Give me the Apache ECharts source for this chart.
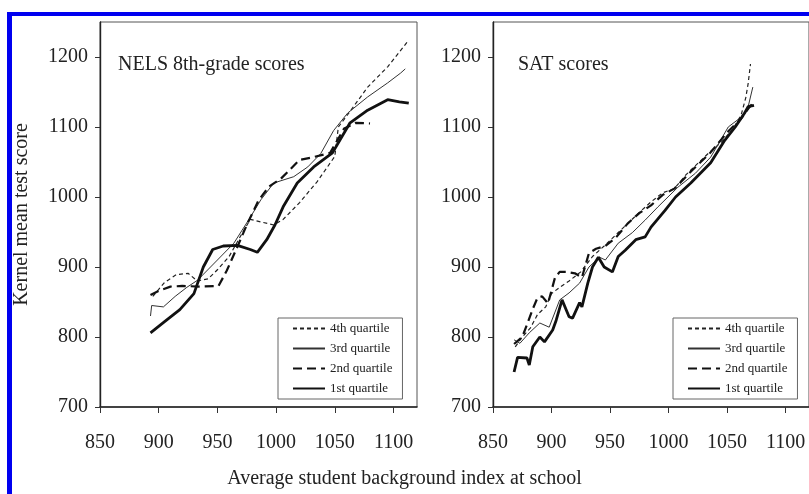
<!DOCTYPE html>
<html><head><meta charset="utf-8">
<script src="https://cdn.jsdelivr.net/npm/echarts@6/dist/echarts.min.js"></script>
<style>html,body{margin:0;padding:0;background:#fff}#c{width:809px;height:494px}</style>
</head><body><div id="c"></div>
<script>
const quartiles = ['4th quartile', '3rd quartile', '2nd quartile', '1st quartile'];
const yTicks = [700, 800, 900, 1000, 1100, 1200];
const xTicks = [850, 900, 950, 1000, 1050, 1100];
const panelTitles = ['NELS 8th-grade scores', 'SAT scores'];
const yAxisTitle = 'Kernel mean test score';
const xAxisTitle = 'Average student background index at school';

// NELS panel
const nelsQ4 = [[895,858],[905,878],[915,889],[925,891],[933,880],[942,883],[950,896],[960,915],[970,945],[978,968],[988,964],[998,960],[1006,968],[1020,992],[1035,1022],[1050,1058],[1053,1100],[1062,1120],[1078,1157],[1095,1186],[1112,1222]];
const nelsQ3 = [[893,830],[894,845],[904,843],[914,858],[924,871],[933,881],[950,910],[964,934],[978,971],[987,996],[998,1020],[1015,1029],[1027,1043],[1038,1062],[1049,1095],[1061,1120],[1078,1143],[1095,1163],[1106,1177],[1110,1183]];
const nelsQ2 = [[893,860],[900,866],[910,872],[920,873],[935,872],[951,873],[958,895],[966,925],[975,960],[985,995],[994,1015],[1004,1026],[1020,1053],[1032,1057],[1046,1063],[1058,1098],[1068,1106],[1080,1105]];
const nelsQ1 = [[893,806],[905,822],[918,839],[930,862],[938,900],[946,925],[955,930],[967,931],[978,925],[984,921],[992,939],[999,960],[1006,986],[1018,1020],[1032,1043],[1048,1063],[1063,1106],[1078,1124],[1095,1139],[1105,1136],[1113,1134]];

// SAT panel
const satQ4 = [[869,786],[875,800],[882,813],[888,832],[895,843],[900,862],[907,871],[915,880],[925,893],[935,915],[945,930],[955,946],[965,962],[975,978],[985,993],[995,1006],[1005,1012],[1015,1032],[1025,1048],[1035,1064],[1045,1078],[1055,1097],[1062,1117],[1066,1142],[1068,1162],[1070,1190]];
const satQ3 = [[868,796],[873,791],[881,806],[890,820],[898,814],[907,853],[915,863],[924,877],[932,900],[941,914],[946,910],[957,934],[969,949],[980,967],[991,986],[1008,1014],[1023,1034],[1036,1057],[1051,1100],[1062,1114],[1068,1129],[1072,1157]];
const satQ2 = [[868,790],[875,800],[880,822],[884,840],[888,856],[892,858],[897,848],[903,885],[907,893],[913,893],[920,891],[926,885],[932,920],[938,926],[946,930],[955,942],[965,962],[975,977],[985,988],[995,1003],[1005,1012],[1020,1038],[1035,1062],[1050,1092],[1062,1112],[1068,1126],[1072,1134]];
const satQ1 = [[868,750],[871,771],[879,770],[881,760],[884,786],[890,800],[894,793],[901,810],[904,824],[909,853],[915,829],[918,827],[924,849],[926,843],[931,877],[935,900],[940,914],[945,900],[952,893],[957,915],[963,924],[972,939],[980,943],[985,957],[997,981],[1006,1000],[1019,1020],[1036,1049],[1048,1081],[1057,1100],[1065,1120],[1068,1129],[1073,1131]];

const FONT = 'Liberation Serif';
const styles = {
  '4th quartile': {color: '#222', width: 1.2, type: [4, 3]},
  '3rd quartile': {color: '#333', width: 1, type: 'solid'},
  '2nd quartile': {color: '#111', width: 2.2, type: [9, 5]},
  '1st quartile': {color: '#111', width: 2.8, type: 'solid'}
};
const panels = [[nelsQ4, nelsQ3, nelsQ2, nelsQ1], [satQ4, satQ3, satQ2, satQ1]];

const grids = [
  {left: 100, top: 22, width: 317, height: 385},
  {left: 493, top: 22, width: 319, height: 385}
];
const plain = v => String(v);

function xAxisFor(i) {
  return {
    type: 'value', gridIndex: i, min: 850, max: 1120,
    axisLine: {show: true, onZero: false, lineStyle: {color: '#222', width: 1.6}},
    axisTick: {show: true, length: 6, customValues: xTicks, lineStyle: {color: '#333'}},
    axisLabel: {customValues: xTicks, formatter: plain, margin: 26, fontFamily: FONT, fontSize: 20, color: '#222'},
    splitLine: {show: false}
  };
}
function yAxisFor(i) {
  const ax = {
    type: 'value', gridIndex: i, min: 700, max: 1250,
    axisLine: {show: true, onZero: false, lineStyle: {color: '#222', width: 1.4}},
    axisTick: {show: true, length: 5, customValues: yTicks, lineStyle: {color: '#333'}},
    axisLabel: {customValues: yTicks, formatter: plain, margin: 12, fontFamily: FONT, fontSize: 20, color: '#222'},
    splitLine: {show: false}
  };
  if (i === 0) {
    ax.name = yAxisTitle;
    ax.nameLocation = 'middle';
    ax.nameGap = 68;
    ax.nameTextStyle = {fontFamily: FONT, fontSize: 20, color: '#222'};
  }
  return ax;
}

const series = [];
panels.forEach((arrs, p) => {
  arrs.forEach((data, k) => {
    const name = quartiles[k];
    const s = styles[name];
    series.push({
      name: name, type: 'line', xAxisIndex: p, yAxisIndex: p,
      data: data, symbol: 'none', smooth: false, animation: false,
      lineStyle: {color: s.color, width: s.width, type: s.type},
      itemStyle: {color: s.color}
    });
  });
});

function legendFor(left) {
  return {
    orient: 'vertical', left: left, top: 318, data: quartiles,
    backgroundColor: '#fff', borderColor: '#666', borderWidth: 1,
    padding: [4, 10, 4, 14], itemWidth: 32, itemHeight: 12, itemGap: 7,
    itemStyle: {opacity: 0},
    textStyle: {fontFamily: FONT, fontSize: 13, color: '#222'},
    selectedMode: false
  };
}

const chart = echarts.init(document.getElementById('c'), null, {renderer: 'canvas'});
chart.setOption({
  backgroundColor: '#fff',
  animation: false,
  title: [
    {text: panelTitles[0], left: 118, top: 55, textStyle: {fontFamily: FONT, fontSize: 20, fontWeight: 'normal', color: '#222'}, padding: 0},
    {text: panelTitles[1], left: 518, top: 55, textStyle: {fontFamily: FONT, fontSize: 20, fontWeight: 'normal', color: '#222'}, padding: 0},
    {text: xAxisTitle, left: 'center', top: 469, textStyle: {fontFamily: FONT, fontSize: 20, fontWeight: 'normal', color: '#222'}, padding: 0}
  ],
  grid: grids.map(g => Object.assign({show: true, borderColor: '#555', borderWidth: 1, backgroundColor: 'transparent'}, g)),
  xAxis: [xAxisFor(0), xAxisFor(1)],
  yAxis: [yAxisFor(0), yAxisFor(1)],
  legend: [legendFor(278), legendFor(673)],
  series: series,
  graphic: [
    {type: 'rect', shape: {x: 7, y: 12, width: 805, height: 4}, style: {fill: '#0000f0'}, z: 100},
    {type: 'rect', shape: {x: 7, y: 12, width: 5, height: 490}, style: {fill: '#0000f0'}, z: 100}
  ]
});
</script>
</body></html>
